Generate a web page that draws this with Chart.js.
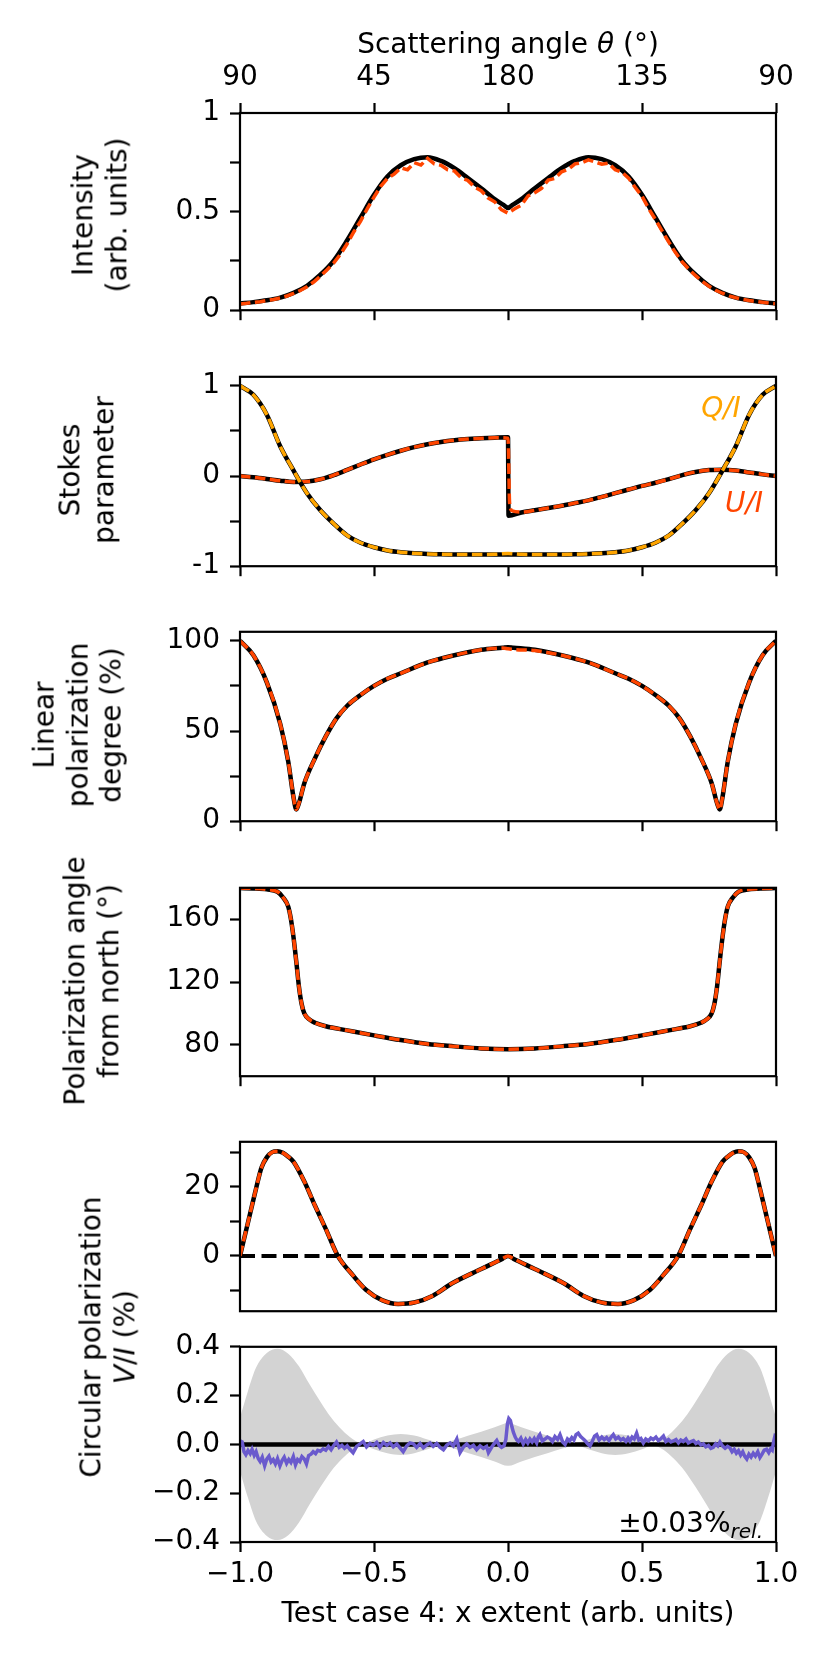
<!DOCTYPE html>
<html>
<head>
<meta charset="utf-8">
<script src="https://cdn.jsdelivr.net/npm/chart.js@4.4.1/dist/chart.umd.min.js"></script>
<style>
  body { margin: 0; background: #fff; }
  #fig { position: relative; width: 830px; height: 1661px; font-family: "DejaVu Sans", sans-serif; font-size: 28px; color: #000; overflow: hidden; }
  #fig canvas { position: absolute; left: 0; }
  .lab { position: absolute; white-space: nowrap; line-height: 1.2; text-align: center; transform: translate(-50%, -50%); }
  .rot { transform: translate(-50%, -50%) rotate(-90deg); }
  .note { position: absolute; white-space: nowrap; line-height: 1.2; }
  .note sub { font-size: 20px; font-style: italic; vertical-align: -6px; }
</style>
</head>
<body>
<div id="fig">
  <canvas id="p1"></canvas>
  <canvas id="p2"></canvas>
  <canvas id="p3"></canvas>
  <canvas id="p4"></canvas>
  <canvas id="p5"></canvas>
  <canvas id="p6"></canvas>

  <div class="lab" style="left:508px;top:44px">Scattering angle <i>θ</i> (°)</div>
  <div class="lab rot" style="left:100px;top:215px">Intensity<br>(arb. units)</div>
  <div class="lab rot" style="left:87px;top:470px">Stokes<br>parameter</div>
  <div class="lab rot" style="left:78px;top:725px">Linear<br>polarization<br>degree (%)</div>
  <div class="lab rot" style="left:92px;top:981px">Polarization angle<br>from north (°)</div>
  <div class="lab rot" style="left:108px;top:1337px">Circular polarization<br><i>V</i>/<i>I</i> (%)</div>
  <div class="lab" style="left:721px;top:408px;color:#FFA500"><i>Q/I</i></div>
  <div class="lab" style="left:744px;top:503px;color:#FF4500"><i>U/I</i></div>
  <div class="note" style="right:67px;top:1506px">±0.03%<sub>rel.</sub></div>
  <div class="lab" style="left:508px;top:1613px">Test case 4: x extent (arb. units)</div>
</div>

<script>
// shared x axis
const xTicks = [-1, -0.5, 0, 0.5, 1];
const xTickLabels = ['\u22121.0', '\u22120.5', '0.0', '0.5', '1.0'];
const topTickLabels = ['90', '45', '180', '135', '90'];

// panel 1: intensity
const intensityX = [-1, -0.95, -0.9, -0.85, -0.8, -0.75, -0.7, -0.65, -0.6, -0.55, -0.5, -0.45, -0.4, -0.35, -0.3, -0.25, -0.2, -0.15, -0.1, -0.05, -0.01, 0,
  0.01, 0.05, 0.1, 0.15, 0.2, 0.25, 0.3, 0.35, 0.4, 0.45, 0.5, 0.55, 0.6, 0.65, 0.7, 0.75, 0.8, 0.85, 0.9, 0.95, 1];
const intensityExact = [0.034, 0.041, 0.050, 0.064, 0.088, 0.124, 0.180, 0.252, 0.355, 0.470, 0.585, 0.678, 0.735, 0.766, 0.776, 0.757, 0.720, 0.670, 0.618, 0.563, 0.527, 0.518,
  0.527, 0.563, 0.618, 0.670, 0.720, 0.757, 0.776, 0.766, 0.735, 0.678, 0.585, 0.470, 0.355, 0.252, 0.180, 0.124, 0.088, 0.064, 0.050, 0.041, 0.034];
const intensityMcX = [-1, -0.975, -0.95, -0.925, -0.9, -0.875, -0.85, -0.825, -0.8, -0.775, -0.75, -0.725, -0.7, -0.675, -0.65, -0.625, -0.6, -0.575, -0.55, -0.525,
  -0.5, -0.475, -0.45, -0.425, -0.4, -0.375, -0.35, -0.325, -0.3, -0.275, -0.25, -0.225, -0.2, -0.175, -0.15, -0.125, -0.1, -0.075, -0.05, -0.025, 0,
  0.025, 0.05, 0.075, 0.1, 0.125, 0.15, 0.175, 0.2, 0.225, 0.25, 0.275, 0.3, 0.325, 0.35, 0.375, 0.4, 0.425, 0.45, 0.475, 0.5,
  0.525, 0.55, 0.575, 0.6, 0.625, 0.65, 0.675, 0.7, 0.725, 0.75, 0.775, 0.8, 0.825, 0.85, 0.875, 0.9, 0.925, 0.95, 0.975, 1];
const intensityMc = [0.032, 0.035, 0.040, 0.043, 0.049, 0.054, 0.062, 0.072, 0.085, 0.100, 0.119, 0.143, 0.172, 0.205, 0.240, 0.284, 0.337, 0.398, 0.452, 0.515,
  0.573, 0.628, 0.668, 0.690, 0.722, 0.712, 0.748, 0.736, 0.770, 0.742, 0.735, 0.712, 0.706, 0.672, 0.658, 0.625, 0.606, 0.570, 0.550, 0.510, 0.492,
  0.514, 0.533, 0.580, 0.596, 0.618, 0.660, 0.668, 0.702, 0.714, 0.742, 0.748, 0.762, 0.752, 0.740, 0.746, 0.712, 0.700, 0.670, 0.622, 0.578,
  0.515, 0.460, 0.402, 0.345, 0.292, 0.245, 0.208, 0.175, 0.146, 0.121, 0.101, 0.086, 0.073, 0.063, 0.055, 0.049, 0.044, 0.040, 0.036, 0.033];

// panel 2: Stokes Q/I and U/I
const stokesX = [-1, -0.95, -0.9, -0.85, -0.8, -0.75, -0.7, -0.65, -0.6, -0.55, -0.5, -0.45, -0.4, -0.35, -0.3, -0.25, -0.2, -0.15, -0.1, -0.05, 0,
  0.05, 0.1, 0.15, 0.2, 0.25, 0.3, 0.35, 0.4, 0.45, 0.5, 0.55, 0.6, 0.65, 0.7, 0.75, 0.8, 0.85, 0.9, 0.95, 1];
const stokesQ = [1.00, 0.90, 0.68, 0.33, 0.06, -0.19, -0.38, -0.53, -0.66, -0.74, -0.79, -0.825, -0.845, -0.857, -0.864, -0.868, -0.87, -0.87, -0.87, -0.87, -0.87,
  -0.87, -0.87, -0.87, -0.87, -0.868, -0.864, -0.857, -0.845, -0.825, -0.79, -0.74, -0.66, -0.53, -0.38, -0.19, 0.06, 0.33, 0.68, 0.90, 1.00];
const stokesQMc = [1.00, 0.90, 0.68, 0.33, 0.06, -0.19, -0.38, -0.53, -0.66, -0.74, -0.79, -0.825, -0.845, -0.857, -0.864, -0.868, -0.87, -0.87, -0.87, -0.868, -0.86,
  -0.868, -0.87, -0.87, -0.87, -0.868, -0.864, -0.857, -0.845, -0.825, -0.79, -0.74, -0.66, -0.53, -0.38, -0.19, 0.06, 0.33, 0.68, 0.90, 1.00];
const stokesUX = [-1, -0.95, -0.9, -0.85, -0.8, -0.75, -0.7, -0.65, -0.6, -0.55, -0.5, -0.45, -0.4, -0.35, -0.3, -0.25, -0.2, -0.15, -0.1, -0.05, 0, 0.002,
  0.05, 0.1, 0.15, 0.2, 0.25, 0.3, 0.35, 0.4, 0.45, 0.5, 0.55, 0.6, 0.65, 0.7, 0.75, 0.8, 0.85, 0.9, 0.95, 1];
const stokesU = [0, -0.014, -0.032, -0.052, -0.066, -0.062, -0.036, 0.01, 0.068, 0.128, 0.185, 0.235, 0.28, 0.32, 0.352, 0.378, 0.397, 0.41, 0.418, 0.425, 0.43, -0.44,
  -0.405, -0.38, -0.355, -0.33, -0.30, -0.27, -0.232, -0.19, -0.15, -0.11, -0.075, -0.035, 0.01, 0.045, 0.066, 0.07, 0.062, 0.04, 0.018, 0];
const stokesUMcX = [-1, -0.95, -0.9, -0.85, -0.8, -0.75, -0.7, -0.65, -0.6, -0.55, -0.5, -0.45, -0.4, -0.35, -0.3, -0.25, -0.2, -0.15, -0.1, -0.05, 0, 0.006, 0.015,
  0.05, 0.1, 0.15, 0.2, 0.25, 0.3, 0.35, 0.4, 0.45, 0.5, 0.55, 0.6, 0.65, 0.7, 0.75, 0.8, 0.85, 0.9, 0.95, 1];
const stokesUMc = [0, -0.014, -0.032, -0.052, -0.066, -0.062, -0.036, 0.01, 0.068, 0.128, 0.185, 0.235, 0.28, 0.32, 0.352, 0.378, 0.397, 0.41, 0.418, 0.425, 0.42, -0.30, -0.385,
  -0.40, -0.38, -0.355, -0.33, -0.30, -0.27, -0.232, -0.19, -0.15, -0.11, -0.075, -0.035, 0.01, 0.045, 0.066, 0.07, 0.062, 0.04, 0.018, 0];

// panel 3: linear polarization degree (%)
const polDegX = [-1, -0.95, -0.9, -0.85, -0.82, -0.8, -0.79, -0.78, -0.76, -0.72, -0.68, -0.64, -0.6, -0.55, -0.5, -0.45, -0.4, -0.3, -0.2, -0.1, -0.02, 0,
  0.02, 0.1, 0.2, 0.3, 0.4, 0.45, 0.5, 0.55, 0.6, 0.64, 0.68, 0.72, 0.76, 0.78, 0.79, 0.8, 0.82, 0.85, 0.9, 0.95, 1];
const polDeg = [100, 92, 77, 54, 33, 13, 6.5, 10, 21, 35, 47, 57, 64, 70, 75, 79, 82, 88, 92, 95, 96.2, 96.5,
  96.2, 95, 92, 88, 82, 79, 75, 70, 64, 57, 47, 35, 21, 10, 6.5, 13, 33, 54, 77, 92, 100];
const polDegMc = [100, 92, 77, 54, 33, 13, 6.5, 10, 21, 35, 47, 57, 64, 70, 75, 79, 82, 88, 92, 95, 96, 95.6,
  95.2, 94.6, 92, 88, 82, 79, 75, 70, 64, 57, 47, 35, 21, 10, 6.5, 13, 33, 54, 77, 92, 100];

// panel 4: polarization angle from north (deg)
const angleX = [-1, -0.95, -0.9, -0.86, -0.84, -0.82, -0.81, -0.8, -0.79, -0.78, -0.77, -0.76, -0.74, -0.72, -0.68, -0.6, -0.5, -0.4, -0.3, -0.2, -0.1, 0,
  0.1, 0.2, 0.3, 0.4, 0.5, 0.6, 0.68, 0.72, 0.74, 0.76, 0.77, 0.78, 0.79, 0.8, 0.81, 0.82, 0.84, 0.86, 0.9, 0.95, 1];
const angle = [179.8, 179.6, 179, 177.5, 174, 168, 160, 148, 133, 117, 106, 100, 96, 94, 91.8, 89.2, 86, 83, 80.5, 79, 77.7, 77.2,
  77.7, 79, 80.5, 83, 86, 89.2, 91.8, 94, 96, 100, 106, 117, 133, 148, 160, 168, 174, 177.5, 179, 179.6, 179.8];

// panel 5: circular polarization V/I (%)
const circX = [-1, -0.98, -0.96, -0.94, -0.92, -0.9, -0.88, -0.86, -0.84, -0.82, -0.8, -0.76, -0.72, -0.68, -0.635, -0.58, -0.53, -0.47, -0.41, -0.35, -0.28, -0.21, -0.1, -0.02, 0,
  0.02, 0.1, 0.21, 0.28, 0.35, 0.41, 0.47, 0.53, 0.58, 0.635, 0.68, 0.72, 0.76, 0.8, 0.82, 0.84, 0.86, 0.88, 0.9, 0.92, 0.94, 0.96, 0.98, 1];
const circ = [0, 6.5, 13, 19.5, 25.5, 28.5, 30, 30.3, 29.8, 28.7, 27.2, 21.5, 14.5, 7.8, 0, -5.5, -9.8, -12.8, -13.9, -13.5, -11.5, -8, -3.8, -0.8, 0,
  -0.8, -3.8, -8, -11.5, -13.5, -13.9, -12.8, -9.8, -5.5, 0, 7.8, 14.5, 21.5, 27.2, 28.7, 29.8, 30.3, 30, 28.5, 25.5, 19.5, 13, 6.5, 0];
const zeroX = [-1, 1];
const zeroY = [0, 0];

// panel 6: V/I residual and tolerance band
const bandX = [-1, -0.97, -0.94, -0.9, -0.86, -0.82, -0.78, -0.74, -0.7, -0.66, -0.62, -0.58, -0.54, -0.5, -0.45, -0.4, -0.35, -0.3, -0.25, -0.2, -0.15, -0.1, -0.05, 0,
  0.05, 0.1, 0.15, 0.2, 0.25, 0.3, 0.35, 0.4, 0.45, 0.5, 0.54, 0.58, 0.62, 0.66, 0.7, 0.74, 0.78, 0.82, 0.86, 0.9, 0.94, 0.97, 1];
const bandHalfWidth = [0.11, 0.22, 0.315, 0.375, 0.392, 0.372, 0.32, 0.245, 0.175, 0.11, 0.06, 0.022, 0.003, 0.02, 0.036, 0.043, 0.036, 0.02, 0.005, 0.018, 0.035, 0.052, 0.07, 0.088,
  0.07, 0.052, 0.035, 0.018, 0.005, 0.02, 0.036, 0.043, 0.036, 0.02, 0.003, 0.022, 0.06, 0.11, 0.175, 0.245, 0.32, 0.372, 0.392, 0.375, 0.315, 0.22, 0.11];
const residX = [-1, -0.992, -0.985, -0.978, -0.97, -0.962, -0.955, -0.947, -0.94, -0.932, -0.925, -0.917, -0.908, -0.9, -0.892, -0.884, -0.876, -0.868, -0.86, -0.851,
  -0.843, -0.835, -0.826, -0.818, -0.81, -0.801, -0.793, -0.785, -0.777, -0.769, -0.76, -0.752, -0.744, -0.735, -0.727, -0.718, -0.71, -0.7, -0.69, -0.68,
  -0.67, -0.66, -0.65, -0.64, -0.63, -0.62, -0.61, -0.6, -0.59, -0.578, -0.565, -0.552, -0.54, -0.528, -0.515, -0.503, -0.49, -0.478, -0.465, -0.452,
  -0.44, -0.428, -0.415, -0.403, -0.391, -0.378, -0.366, -0.353, -0.341, -0.328, -0.316, -0.303, -0.291, -0.279, -0.266, -0.254, -0.241, -0.229, -0.216, -0.204,
  -0.191, -0.179, -0.166, -0.154, -0.142, -0.129, -0.117, -0.104, -0.092, -0.08, -0.073, -0.06, -0.048, -0.042, -0.033, -0.024, -0.015, -0.008, -0.002, 0.003,
  0.009, 0.015, 0.02, 0.027, 0.033, 0.039, 0.048, 0.057, 0.066, 0.074, 0.082, 0.09, 0.098, 0.107, 0.113, 0.119, 0.128, 0.138, 0.147, 0.157,
  0.166, 0.175, 0.185, 0.194, 0.204, 0.213, 0.222, 0.23, 0.238, 0.246, 0.254, 0.262, 0.271, 0.279, 0.287, 0.296, 0.306, 0.315, 0.323, 0.331,
  0.34, 0.35, 0.359, 0.368, 0.377, 0.385, 0.393, 0.402, 0.412, 0.421, 0.43, 0.44, 0.448, 0.455, 0.463, 0.471, 0.48, 0.488, 0.496, 0.505,
  0.514, 0.524, 0.533, 0.542, 0.552, 0.561, 0.571, 0.58, 0.589, 0.599, 0.608, 0.617, 0.627, 0.636, 0.645, 0.654, 0.664, 0.673, 0.683, 0.692,
  0.701, 0.71, 0.72, 0.729, 0.738, 0.748, 0.757, 0.766, 0.775, 0.783, 0.791, 0.8, 0.81, 0.819, 0.828, 0.836, 0.844, 0.852, 0.86, 0.868,
  0.876, 0.884, 0.891, 0.899, 0.907, 0.915, 0.923, 0.932, 0.94, 0.948, 0.956, 0.965, 0.973, 0.98, 0.986, 0.991, 0.996, 1];
const residY = [0.015, 0.010, -0.030, -0.042, -0.025, -0.038, -0.020, -0.045, -0.030, -0.058, -0.070, -0.052, -0.088, -0.060, -0.048, -0.072, -0.062, -0.080, -0.058, -0.088,
  -0.066, -0.052, -0.078, -0.062, -0.074, -0.050, -0.084, -0.062, -0.070, -0.050, -0.060, -0.080, -0.046, -0.040, -0.030, -0.038, -0.024, -0.028, -0.018, -0.024,
  -0.008, -0.022, -0.004, 0.010, -0.012, -0.004, -0.016, -0.006, -0.020, -0.034, -0.008, 0.002, 0.012, -0.010, 0.004, -0.004, 0.008, -0.012, 0.008, -0.004,
  0.006, -0.010, 0.002, -0.014, -0.030, -0.006, 0.006, 0.002, -0.012, 0.004, -0.014, -0.002, 0.006, -0.008, 0.004, -0.012, -0.022, -0.004, 0.006, -0.006,
  0.022, -0.034, -0.010, 0.002, -0.012, -0.004, -0.022, -0.006, -0.016, -0.008, -0.034, -0.010, 0.008, 0.016, -0.004, -0.012, -0.006, 0.020, 0.085, 0.106,
  0.098, 0.070, 0.050, 0.030, 0.018, 0.012, 0.026, 0.002, 0.020, 0.006, 0.022, 0.010, 0.024, 0.006, 0.030, 0.040, 0.014, 0.022, 0.030, 0.024,
  0.012, 0.032, 0.020, 0.040, 0.010, 0.000, 0.022, 0.014, 0.028, 0.018, 0.040, 0.046, 0.032, 0.024, 0.016, 0.004, -0.006, 0.014, 0.034, 0.040,
  0.018, 0.030, 0.020, 0.028, 0.016, 0.030, 0.040, 0.022, 0.030, 0.018, 0.024, 0.012, 0.026, 0.014, 0.030, 0.022, 0.046, 0.018, 0.024, 0.006,
  0.022, 0.014, 0.026, 0.020, 0.030, 0.016, 0.024, 0.034, 0.012, 0.020, 0.010, 0.014, 0.020, 0.006, 0.018, 0.012, 0.022, 0.006, 0.012, 0.016,
  0.004, 0.010, -0.002, 0.002, -0.010, -0.004, -0.016, -0.012, 0.002, -0.006, 0.010, -0.006, -0.016, -0.008, -0.014, -0.030, -0.020, -0.036, -0.026, -0.044,
  -0.030, -0.050, -0.060, -0.040, -0.052, -0.036, -0.048, -0.030, -0.054, -0.040, -0.024, -0.020, -0.034, -0.018, -0.024, 0.010, 0.034, 0.030];

// y axes: tick values and their labels ('' = unlabeled tick)
const yTicks1 = [0, 0.25, 0.5, 0.75, 1];      const yLabels1 = ['0', '', '0.5', '', '1'];
const yTicks2 = [-1, -0.5, 0, 0.5, 1];        const yLabels2 = ['-1', '', '0', '', '1'];
const yTicks3 = [0, 25, 50, 75, 100];         const yLabels3 = ['0', '', '50', '', '100'];
const yTicks4 = [80, 120, 160];               const yLabels4 = ['80', '120', '160'];
const yTicks5 = [-10, 0, 10, 20, 30];         const yLabels5 = ['', '0', '', '20', ''];
const yTicks6 = [-0.4, -0.2, 0, 0.2, 0.4];    const yLabels6 = ['\u22120.4', '\u22120.2', '0.0', '0.2', '0.4'];

const ORANGERED = '#FF4500', ORANGE = '#FFA500', PURPLE = '#6A5ACD', LIGHTGRAY = '#D3D3D3';
const AX_LEFT = 240, AX_RIGHT = 776, FIG_W = 830;

Chart.defaults.font.family = '"DejaVu Sans", sans-serif';
Chart.defaults.font.size = 28;
Chart.defaults.color = '#000';

const tickGrid = { drawOnChartArea: false, drawTicks: true, tickLength: 10, tickWidth: 2.2, tickColor: '#000', color: '#000' };

function pts(xs, ys) {
  return xs.map((x, i) => ({ x: x, y: ys[i] }));
}

function exact(xs, ys, order) {
  return { data: pts(xs, ys), borderColor: '#000', borderWidth: 4.5, pointRadius: 0, cubicInterpolationMode: 'monotone', order: order };
}
function mc(xs, ys, color, order, smooth) {
  const d = { data: pts(xs, ys), borderColor: color, borderWidth: 3.5, borderDash: [10.5, 4.5], pointRadius: 0, order: order };
  if (smooth) d.cubicInterpolationMode = 'monotone';
  return d;
}

// box around each axes, drawn over the lines like matplotlib spines
const frame = {
  id: 'frame',
  afterDatasetsDraw(chart) {
    const a = chart.chartArea, ctx = chart.ctx;
    ctx.save();
    ctx.strokeStyle = '#000';
    ctx.lineWidth = 2.2;
    ctx.strokeRect(a.left, a.top, a.right - a.left, a.bottom - a.top);
    ctx.restore();
  }
};

function panel(id, canvasTop, box, bottomH, yMin, yMax, yTicks, yLabels, datasets, opts) {
  opts = opts || {};
  const cv = document.getElementById(id);
  cv.width = FIG_W;
  cv.height = box[1] - canvasTop + bottomH;
  cv.style.top = canvasTop + 'px';

  const scales = {
    x: {
      type: 'linear', min: -1, max: 1, display: bottomH > 0,
      afterFit: s => { s.height = bottomH; },
      afterBuildTicks: s => { s.ticks = xTicks.map(v => ({ value: v })); },
      ticks: { display: !!opts.xLabels, autoSkip: false, maxRotation: 0, padding: 6, callback: (v, i) => xTickLabels[i] },
      grid: tickGrid,
      border: { display: false }
    },
    y: {
      type: 'linear', min: yMin, max: yMax,
      afterFit: s => { s.width = AX_LEFT; },
      afterBuildTicks: s => { s.ticks = yTicks.map(v => ({ value: v })); },
      ticks: { autoSkip: false, padding: 10, callback: (v, i) => yLabels[i] },
      grid: tickGrid,
      border: { display: false }
    }
  };
  if (opts.topLabels) {
    scales.x2 = {
      type: 'linear', position: 'top', min: -1, max: 1,
      afterFit: s => { s.height = box[0] - canvasTop; },
      afterBuildTicks: s => { s.ticks = xTicks.map(v => ({ value: v })); },
      ticks: { autoSkip: false, maxRotation: 0, padding: 8, callback: (v, i) => opts.topLabels[i] },
      grid: tickGrid,
      border: { display: false }
    };
  }

  return new Chart(cv, {
    type: 'line',
    data: { datasets: datasets },
    options: {
      responsive: false,
      animation: false,
      layout: {
        autoPadding: false,
        padding: { left: 0, right: FIG_W - AX_RIGHT, top: opts.topLabels ? 0 : box[0] - canvasTop, bottom: 0 }
      },
      plugins: { legend: { display: false }, tooltip: { enabled: false } },
      scales: scales
    },
    plugins: [frame]
  });
}

panel('p1', 0, [113, 317], 20, 0, 1, yTicks1, yLabels1, [
  mc(intensityMcX, intensityMc, ORANGERED, 0, false),
  exact(intensityX, intensityExact, 1)
], { topLabels: topTickLabels });

panel('p2', 350, [368, 573], 20, -1, 1.1, yTicks2, yLabels2, [
  mc(stokesX, stokesQMc, ORANGE, 0, true),
  exact(stokesX, stokesQ, 1),
  mc(stokesUMcX, stokesUMc, ORANGERED, 2, true),
  exact(stokesUX, stokesU, 3)
]);

panel('p3', 605, [623, 828], 20, 0, 105, yTicks3, yLabels3, [
  mc(polDegX, polDegMc, ORANGERED, 0, true),
  exact(polDegX, polDeg, 1)
]);

panel('p4', 861, [879, 1083], 20, 60, 180, yTicks4, yLabels4, [
  mc(angleX, angle, ORANGERED, 0, true),
  exact(angleX, angle, 1)
]);

panel('p5', 1115, [1133, 1338], 0, -16, 33, yTicks5, yLabels5, [
  mc(circX, circ, ORANGERED, 0, true),
  exact(circX, circ, 1),
  { data: pts(zeroX, zeroY), borderColor: '#000', borderWidth: 4, borderDash: [15, 6.5], pointRadius: 0, order: 2 }
]);

panel('p6', 1320, [1338, 1542], 60, -0.4, 0.4, yTicks6, yLabels6, [
  { data: pts(residX, residY), borderColor: PURPLE, borderWidth: 3.5, pointRadius: 0, order: 0 },
  { data: pts(zeroX, zeroY), borderColor: '#000', borderWidth: 4.5, pointRadius: 0, order: 1 },
  { data: pts(bandX, bandHalfWidth), borderWidth: 0, borderColor: LIGHTGRAY, backgroundColor: LIGHTGRAY, fill: '+1', pointRadius: 0, cubicInterpolationMode: 'monotone', order: 2 },
  { data: pts(bandX, bandHalfWidth.map(w => -w)), borderWidth: 0, borderColor: LIGHTGRAY, pointRadius: 0, cubicInterpolationMode: 'monotone', order: 3 }
], { xLabels: true });
</script>
</body>
</html>
